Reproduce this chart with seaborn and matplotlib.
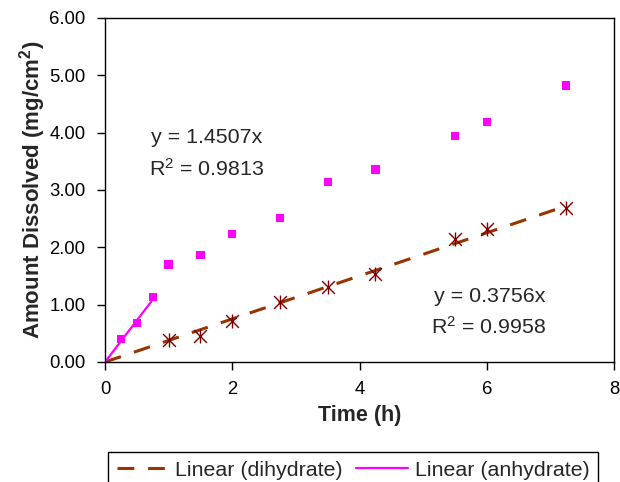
import matplotlib
matplotlib.use("Agg")
import matplotlib.pyplot as plt
import numpy as np
import pandas as pd
import seaborn as sns

# ---- data ----
anhydrate_time = [0.25, 0.5, 0.75, 1.0, 1.5, 2.0, 2.75, 3.5, 4.25, 5.5, 6.0, 7.25]
anhydrate_amount = [0.40, 0.675, 1.13, 1.70, 1.87, 2.23, 2.51, 3.14, 3.36, 3.94, 4.19, 4.82]
dihydrate_time = [1.0, 1.5, 2.0, 2.75, 3.5, 4.25, 5.5, 6.0, 7.25]
dihydrate_amount = [0.38, 0.46, 0.72, 1.04, 1.30, 1.54, 2.15, 2.32, 2.68]
dihydrate_slope = 0.3756
anhydrate_slope = 1.4507
dihydrate_fit_x = [0.0, 7.25]
anhydrate_fit_x = [0.0, 0.75]
eq_dihydrate = ["y = 0.3756x", "R$^2$ = 0.9958"]
eq_anhydrate = ["y = 1.4507x", "R$^2$ = 0.9813"]
x_ticks = [0, 2, 4, 6, 8]
y_ticks = [0, 1, 2, 3, 4, 5, 6]

sns.set_style("ticks")
plt.rcParams["font.family"] = ["Liberation Sans", "DejaVu Sans"]
plt.rcParams["mathtext.fontset"] = "custom"
plt.rcParams["mathtext.rm"] = "Liberation Sans"
plt.rcParams["mathtext.bf"] = "Liberation Sans:bold"
plt.rcParams["mathtext.default"] = "regular"

fig = plt.figure(figsize=(6.2, 4.82), dpi=100)
ax = fig.add_axes([105 / 620, 1 - 362 / 482, (614 - 105) / 620, (362 - 18) / 482])

df_a = pd.DataFrame({"t": anhydrate_time, "a": anhydrate_amount})
df_d = pd.DataFrame({"t": dihydrate_time, "a": dihydrate_amount})
fit_d = pd.DataFrame({"t": dihydrate_fit_x,
                      "a": [dihydrate_slope * v for v in dihydrate_fit_x]})
fit_a = pd.DataFrame({"t": anhydrate_fit_x,
                      "a": [anhydrate_slope * v for v in anhydrate_fit_x]})

# trend lines
sns.lineplot(data=fit_d, x="t", y="a", ax=ax, color="#993300", lw=2.2,
             dashes=False, label="Linear (dihydrate)", zorder=2)
ax.lines[-1].set_dashes((5.5, 4.5))
sns.lineplot(data=fit_a, x="t", y="a", ax=ax, color="#FF00FF", lw=1.6,
             label="Linear (anhydrate)", zorder=2)

# points
sns.scatterplot(data=df_a, x="t", y="a", ax=ax, marker="s", s=36,
                color="#FF00FF", edgecolor="none", legend=False, zorder=3)
sns.scatterplot(data=df_d, x="t", y="a", ax=ax, marker="x", s=85,
                color="#800000", linewidth=1.0, legend=False, zorder=3)
sns.scatterplot(data=df_d, x="t", y="a", ax=ax, marker="|", s=95,
                color="#800000", linewidth=1.0, legend=False, zorder=3)

ax.set_xlim(0, 8)
ax.set_ylim(0, 6)
ax.set_xticks(x_ticks)
ax.set_yticks(y_ticks)
ax.set_xticklabels([str(v) for v in x_ticks])
ax.set_yticklabels([f"{v:.2f}" for v in y_ticks])
ax.tick_params(direction="out", length=6, width=1, labelsize=13.3, pad=8,
               colors="black")
for sp in ax.spines.values():
    sp.set_visible(True)
    sp.set_color("black")
    sp.set_linewidth(1.0)

ax.set_xlabel("Time (h)", fontsize=15.5, fontweight="bold", labelpad=5)
ax.set_ylabel("Amount Dissolved (mg/cm$^\\mathbf{2}$)", fontsize=16,
              fontweight="bold", labelpad=1)

# equations
ax.text(0.73, 3.91, eq_anhydrate[0], fontsize=15.4, ha="left", va="center")
ax.text(0.69, 3.37, eq_anhydrate[1], fontsize=15.4, ha="left", va="center")
ax.text(5.165, 1.15, eq_dihydrate[0], fontsize=15.4, ha="left", va="center")
ax.text(5.12, 0.61, eq_dihydrate[1], fontsize=15.4, ha="left", va="center")

leg = ax.legend(loc="upper left", bbox_to_anchor=(108 / 620, 1 - 452 / 482),
                bbox_transform=fig.transFigure, ncol=2, fontsize=15.4,
                frameon=True, fancybox=False, handlelength=2.4,
                handletextpad=0.33, columnspacing=0.65, borderpad=0.4,
                borderaxespad=0)
leg.get_frame().set_edgecolor("black")
leg.get_frame().set_linewidth(1.0)
leg.get_frame().set_alpha(1)

fig.savefig("out.png", dpi=100)
